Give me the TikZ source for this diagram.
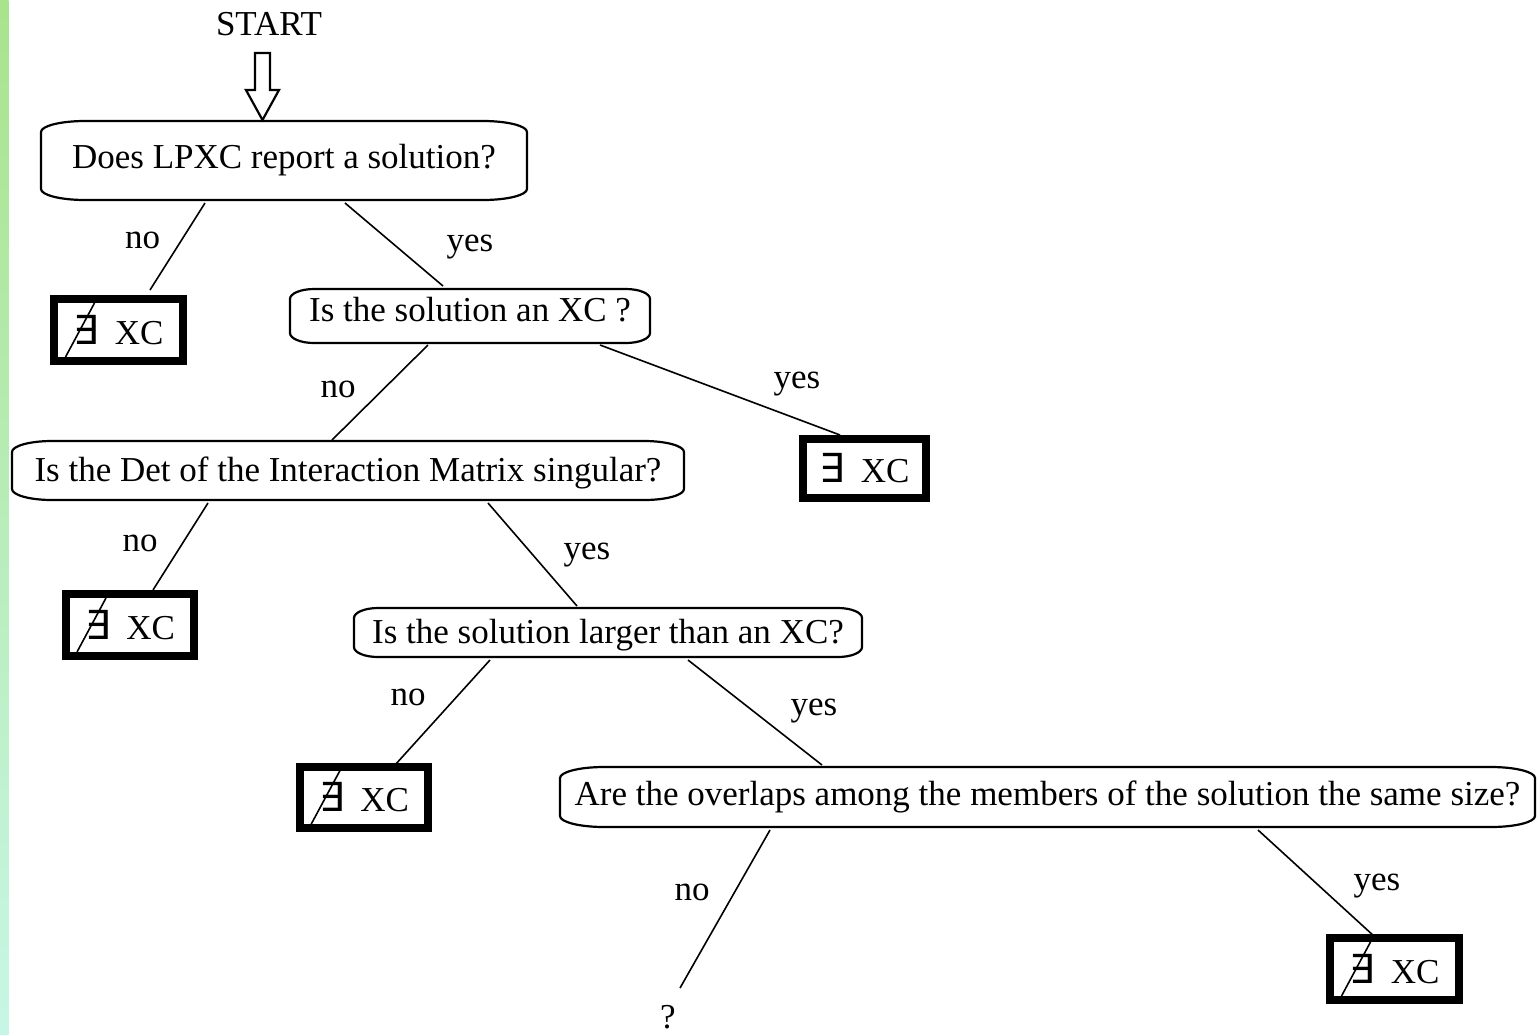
\documentclass[tikz,border=0pt]{standalone}
\usepackage{fontspec}
\setmainfont{Liberation Serif}
\newfontfamily\symfont{DejaVu Sans}
\usetikzlibrary{calc}
\definecolor{stripA}{RGB}{168,228,140}
\definecolor{stripB}{RGB}{182,242,205}
\definecolor{stripC}{RGB}{198,247,230}
\tikzset{
  txt/.style={font=\fontsize{17.5}{20}\selectfont, inner sep=0pt, outer sep=0pt},
  qbox/.style={txt, draw=none},
  xbox/.style={txt, draw, line width=4pt},
  conn/.style={line width=0.8pt},
  qline/.style={line width=1.1pt},
  lbl/.style={txt, anchor=base},
}
\newcommand\qframe[3]{%
  \draw[qline] ([xshift=#2]#1.north west) -- ([xshift=-#2]#1.north east)
    arc[start angle=90,end angle=0,x radius=#2,y radius=#3]
    -- ([yshift=#3]#1.south east)
    arc[start angle=0,end angle=-90,x radius=#2,y radius=#3]
    -- ([xshift=#2]#1.south west)
    arc[start angle=270,end angle=180,x radius=#2,y radius=#3]
    -- ([yshift=-#3]#1.north west)
    arc[start angle=180,end angle=90,x radius=#2,y radius=#3] -- cycle;}
\newcommand\nexslash[1]{%
  \draw[conn] ([shift={(-24,-27)}]#1.center) -- ([shift={(-53,27)}]#1.center);}
\newcommand\exsym{{\fontsize{20}{20}\selectfont\symfont ∃}}
\begin{document}
\begin{tikzpicture}[x=0.5pt,y=-0.5pt]
\useasboundingbox (0,0) rectangle (1537,1034);
\fill[white] (0,0) rectangle (1537,1034);
\shade[top color=stripA, middle color=stripB, bottom color=stripC] (0,0) rectangle (8.5,1034);

% start
\node[txt] (start) at (269,24) {START};
\draw[qline] (255,53) -- (270,53) -- (270,90) -- (279,90) -- (262.5,120) -- (246,90) -- (255,90) -- cycle;

% questions
\node[qbox, minimum width=243pt, minimum height=39.5pt] (q1) at (284,160.5) {Does LPXC report a solution?};
\node[qbox, minimum width=180pt, minimum height=27pt, text height=12pt, text depth=6.4pt] (q2) at (470,316) {Is the solution an XC ?};
\node[qbox, minimum width=336pt, minimum height=29.5pt, text height=12pt, text depth=0.6pt] (q3) at (348,470.5) {Is the Det of the Interaction Matrix singular?};
\node[qbox, minimum width=254pt, minimum height=24.5pt, text height=12pt, text depth=0.6pt] (q4) at (608,632.5) {Is the solution larger than an XC?};
\node[qbox, minimum width=487.5pt, minimum height=30pt] (q5) at (1047.5,797) {Are the overlaps among the members of the solution the same size?};
\qframe{q1}{22pt}{5.5pt}
\qframe{q2}{12pt}{5pt}
\qframe{q3}{20pt}{5.5pt}
\qframe{q4}{12pt}{5pt}
\qframe{q5}{22pt}{5.5pt}

% answers
\node[xbox, minimum width=64.5pt, minimum height=31pt] (xA) at (118.5,330) {\exsym\hspace{8pt}XC};
\node[xbox, minimum width=61.5pt, minimum height=29.5pt] (xB) at (864.5,468.5) {\exsym\hspace{8pt}XC};
\node[xbox, minimum width=64pt, minimum height=31pt] (xC) at (130,625) {\exsym\hspace{8pt}XC};
\node[xbox, minimum width=64pt, minimum height=30.5pt] (xD) at (364,797.5) {\exsym\hspace{8pt}XC};
\node[xbox, minimum width=64.5pt, minimum height=31pt] (xE) at (1394.5,969) {\exsym\hspace{8pt}XC};
\nexslash{xA}
\nexslash{xC}
\nexslash{xD}
\nexslash{xE}
\node[txt] (qm) at (668,1017) {?};

% connectors
\draw[conn] ([shift={(-79,3)}]q1.south) -- ([shift={(31.5,-9)}]xA.north);
\draw[conn] ([shift={(61,3)}]q1.south) -- ([shift={(-27,-3)}]q2.north);
\draw[conn] ([shift={(-42,2)}]q2.south) -- ([shift={(-16,-1)}]q3.north);
\draw[conn] ([shift={(130,2)}]q2.south) -- ([shift={(-24.5,-4)}]xB.north);
\draw[conn] ([shift={(-140,3)}]q3.south) -- ([shift={(23,-4)}]xC.north);
\draw[conn] ([shift={(140,3)}]q3.south) -- ([shift={(-31,-2)}]q4.north);
\draw[conn] ([shift={(-118,3)}]q4.south) -- ([shift={(31,-2)}]xD.north);
\draw[conn] ([shift={(80,3)}]q4.south) -- ([shift={(-225.5,-2)}]q5.north);
\draw[conn] ([shift={(-277.5,3)}]q5.south) -- ([shift={(12,-29)}]qm.center);
\draw[conn] ([shift={(210.5,3)}]q5.south) -- ([shift={(-19.5,-1)}]xE.north);

% labels
\node[lbl] at (142.5,248) {no};
\node[lbl] at (470,251) {yes};
\node[lbl] at (338,397) {no};
\node[lbl] at (797,388) {yes};
\node[lbl] at (140,551) {no};
\node[lbl] at (587,559) {yes};
\node[lbl] at (408,705) {no};
\node[lbl] at (814,715) {yes};
\node[lbl] at (692,900) {no};
\node[lbl] at (1377,890) {yes};
\end{tikzpicture}
\end{document}
